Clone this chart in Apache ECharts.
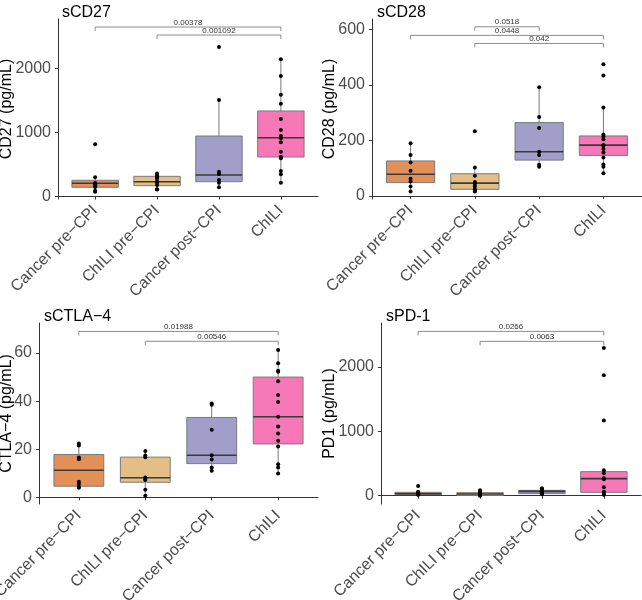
<!DOCTYPE html>
<html>
<head>
<meta charset="utf-8">
<script src="https://cdn.jsdelivr.net/npm/echarts@6/dist/echarts.min.js"></script>
<style>html,body{margin:0;padding:0;background:#fff;}#c{width:642px;height:600px;}</style>
</head>
<body>
<div id="c"></div>
<script>
// ---- data ----
const categories = ['Cancer pre\u2212CPI', 'ChILI pre\u2212CPI', 'Cancer post\u2212CPI', 'ChILI'];
const boxColors = ['#E28F58', '#E3BE87', '#A19ECA', '#F778B7'];

const panelTitles = ['sCD27', 'sCD28', 'sCTLA\u22124', 'sPD-1'];
const yNames = ['CD27 (pg/mL)', 'CD28 (pg/mL)', 'CTLA\u22124 (pg/mL)', 'PD1 (pg/mL)'];

const cd27Ticks = [0, 1000, 2000];
const cd28Ticks = [0, 200, 400, 600];
const ctla4Ticks = [0, 20, 40, 60];
const pd1Ticks = [0, 1000, 2000];

// points per group
const cd27Points = [
  [816, 300, 210, 190, 170, 150, 90, 75],
  [360, 330, 300, 280, 240, 220, 180, 115, 110],
  [2336, 1508, 388, 352, 258, 216, 143],
  [2143, 1883, 1591, 1450, 1211, 1039, 945, 909, 847, 700, 622, 597, 398, 347, 216]
];
const cd28Points = [
  [190, 147, 120, 91, 62, 52, 34, 16],
  [233, 102, 73, 50, 43, 34, 24, 19, 16],
  [391, 284, 245, 159, 147, 112, 105],
  [474, 434, 318, 221, 213, 204, 183, 180, 169, 156, 138, 113, 105, 82]
];
const ctla4Points = [
  [22.4, 21.5, 16.5, 15.8, 6.5, 5.6, 4.4, 4.0],
  [19.2, 17.4, 16.7, 8.2, 7.6, 7.2, 3.1, 0.6],
  [39.0, 38.5, 28.1, 17.5, 15.7, 12.4, 11.0],
  [61.3, 55.8, 52.6, 52.2, 48.3, 42.5, 39.6, 33.5, 29.4, 26.5, 23.5, 21.1, 13.75, 12.4, 9.9]
];
const pd1Points = [
  [150, 62, 45, 36, 30, 20, 16],
  [83, 57, 40, 26, 20, 10, 0],
  [114, 88, 62, 50, 36, 21],
  [2290, 1870, 1166, 394, 347, 269, 254, 130, 62, 31, 16]
];

// box stats: [lowerWhisker, Q1, median, Q3, upperWhisker]
const cd27Box = [[75, 144, 206, 253, 300], [110, 169, 231, 315, 360], [143, 231, 336, 945, 1508], [216, 617, 919, 1336, 2143]];
const cd28Box = [[16, 48, 78, 126, 190], [16, 24, 46, 80, 102], [105, 129, 159, 264, 391], [82, 146, 183, 216, 318]];
const ctla4Box = [[4.0, 4.6, 11.25, 17.8, 22.4], [0.6, 6.25, 8.1, 16.7, 19.2], [11.0, 14.0, 17.5, 33.2, 39.0], [9.9, 22.2, 33.5, 50.0, 61.3]];
const pd1Box = [[16, 16, 31, 52, 62], [0, 5, 26, 47, 83], [21, 31, 67, 83, 114], [16, 52, 264, 373, 394]];

// significance brackets: [fromGroup, toGroup, y, label]
const cd27Sig = [[1, 4, 2648, '0.00378'], [2, 4, 2523, '0.001092']];
const cd28Sig = [[2, 3, 609, '0.0518'], [1, 4, 578, '0.0448'], [2, 4, 549, '0.042']];
const ctla4Sig = [[1, 4, 69.0, '0.01988'], [2, 4, 64.9, '0.00546']];
const pd1Sig = [[1, 4, 2549, '0.0266'], [2, 4, 2394, '0.0063']];

const yRanges = [[-39, 2773], [-11, 637], [-2.8, 72.5], [-129, 2679]];

// ---- layout ----
const grids = [
  {left: 58, top: 19, width: 260, height: 180, outerBoundsMode: 'none', containLabel: false},
  {left: 372, top: 19, width: 270, height: 180, outerBoundsMode: 'none', containLabel: false},
  {left: 39, top: 323, width: 279, height: 181, outerBoundsMode: 'none', containLabel: false},
  {left: 381, top: 323, width: 260, height: 181, outerBoundsMode: 'none', containLabel: false}
];
const nameGaps = [43, 34, 24, 43];
const titlePos = [[57, 0], [372, 0], [39, 304], [381, 304]];

const panels = [
  {pts: cd27Points, box: cd27Box, sig: cd27Sig, ticks: cd27Ticks},
  {pts: cd28Points, box: cd28Box, sig: cd28Sig, ticks: cd28Ticks},
  {pts: ctla4Points, box: ctla4Box, sig: ctla4Sig, ticks: ctla4Ticks},
  {pts: pd1Points, box: pd1Box, sig: pd1Sig, ticks: pd1Ticks}
];

const FONT = 'Liberation Sans, Arial, Helvetica, sans-serif';
const xAxes = [], yAxes = [], series = [], titles = [];

panels.forEach((p, i) => {
  titles.push({text: panelTitles[i], left: titlePos[i][0], top: titlePos[i][1],
    textStyle: {fontFamily: FONT, fontSize: 16, fontWeight: 'normal', color: '#000'}});
  xAxes.push({
    type: 'value', gridIndex: i, min: 0.4, max: 4.6,
    axisLine: {show: true, lineStyle: {color: '#333', width: 1}},
    axisTick: {show: true, length: 3, lineStyle: {color: '#333'}, customValues: [1, 2, 3, 4]},
    axisLabel: {customValues: [1, 2, 3, 4], rotate: 45, margin: 9, color: '#4D4D4D', fontSize: 16, fontFamily: FONT,
      formatter: v => categories[Math.round(v) - 1] || ''},
    splitLine: {show: false}
  });
  yAxes.push({
    type: 'value', gridIndex: i, min: yRanges[i][0], max: yRanges[i][1],
    name: yNames[i], nameLocation: 'middle', nameGap: nameGaps[i], nameMoveOverlap: false,
    nameTextStyle: {fontFamily: FONT, fontSize: 16, color: '#000'},
    axisLine: {show: true, lineStyle: {color: '#333', width: 1}},
    axisTick: {show: true, length: 3, lineStyle: {color: '#333'}, customValues: p.ticks},
    axisLabel: {customValues: p.ticks, margin: 7, color: '#4D4D4D', fontSize: 16, fontFamily: FONT,
      formatter: v => String(v)},
    splitLine: {show: false}
  });

  // boxes
  series.push({
    type: 'custom', xAxisIndex: i, yAxisIndex: i, z: 2,
    data: p.box.map((b, k) => [k + 1, b[0], b[1], b[2], b[3], b[4], k]),
    renderItem: function (params, api) {
      const x = api.value(0);
      const lo = api.value(1), q1 = api.value(2), med = api.value(3), q3 = api.value(4), hi = api.value(5);
      const ci = api.value(6);
      const tl = api.coord([x - 0.375, q3]);
      const br = api.coord([x + 0.375, q1]);
      const cTop = api.coord([x, hi]);
      const cQ3 = api.coord([x, q3]);
      const cQ1 = api.coord([x, q1]);
      const cLo = api.coord([x, lo]);
      const mL = api.coord([x - 0.375, med]);
      const mR = api.coord([x + 0.375, med]);
      const grey = '#7A7A7A';
      return {
        type: 'group',
        children: [
          {type: 'line', shape: {x1: cTop[0], y1: cTop[1], x2: cQ3[0], y2: cQ3[1]}, style: {stroke: grey, lineWidth: 1}},
          {type: 'line', shape: {x1: cQ1[0], y1: cQ1[1], x2: cLo[0], y2: cLo[1]}, style: {stroke: grey, lineWidth: 1}},
          {type: 'rect', shape: {x: tl[0], y: tl[1], width: br[0] - tl[0], height: br[1] - tl[1]},
            style: {fill: boxColors[ci], stroke: grey, lineWidth: 1}},
          {type: 'line', shape: {x1: mL[0], y1: mL[1], x2: mR[0], y2: mR[1]}, style: {stroke: '#3A3A3A', lineWidth: 1.6}}
        ]
      };
    }
  });

  // points
  const scatterData = [];
  p.pts.forEach((arr, k) => arr.forEach(v => scatterData.push([k + 1, v])));
  series.push({
    type: 'scatter', xAxisIndex: i, yAxisIndex: i, z: 3,
    symbolSize: 4, itemStyle: {color: '#000', opacity: 1},
    data: scatterData, silent: true
  });

  // brackets
  series.push({
    type: 'custom', xAxisIndex: i, yAxisIndex: i, z: 4,
    data: p.sig.map(s => [s[0], s[1], s[2]]),
    renderItem: function (params, api) {
      const a = api.coord([api.value(0), api.value(2)]);
      const b = api.coord([api.value(1), api.value(2)]);
      const tip = 4;
      const label = p.sig[params.dataIndex][3];
      return {
        type: 'group',
        children: [
          {type: 'polyline', shape: {points: [[a[0], a[1] + tip], a, b, [b[0], b[1] + tip]]},
            style: {stroke: '#8C8C8C', lineWidth: 1, fill: null}},
          {type: 'text', x: (a[0] + b[0]) / 2, y: a[1] - 0.5,
            style: {text: label, fill: '#333', fontSize: 8, fontFamily: FONT, align: 'center', verticalAlign: 'bottom'}}
        ]
      };
    }
  });
});

const chart = echarts.init(document.getElementById('c'), null, {renderer: 'canvas'});
chart.setOption({
  animation: false,
  backgroundColor: '#fff',
  title: titles,
  grid: grids,
  xAxis: xAxes,
  yAxis: yAxes,
  series: series
});
</script>
</body>
</html>
